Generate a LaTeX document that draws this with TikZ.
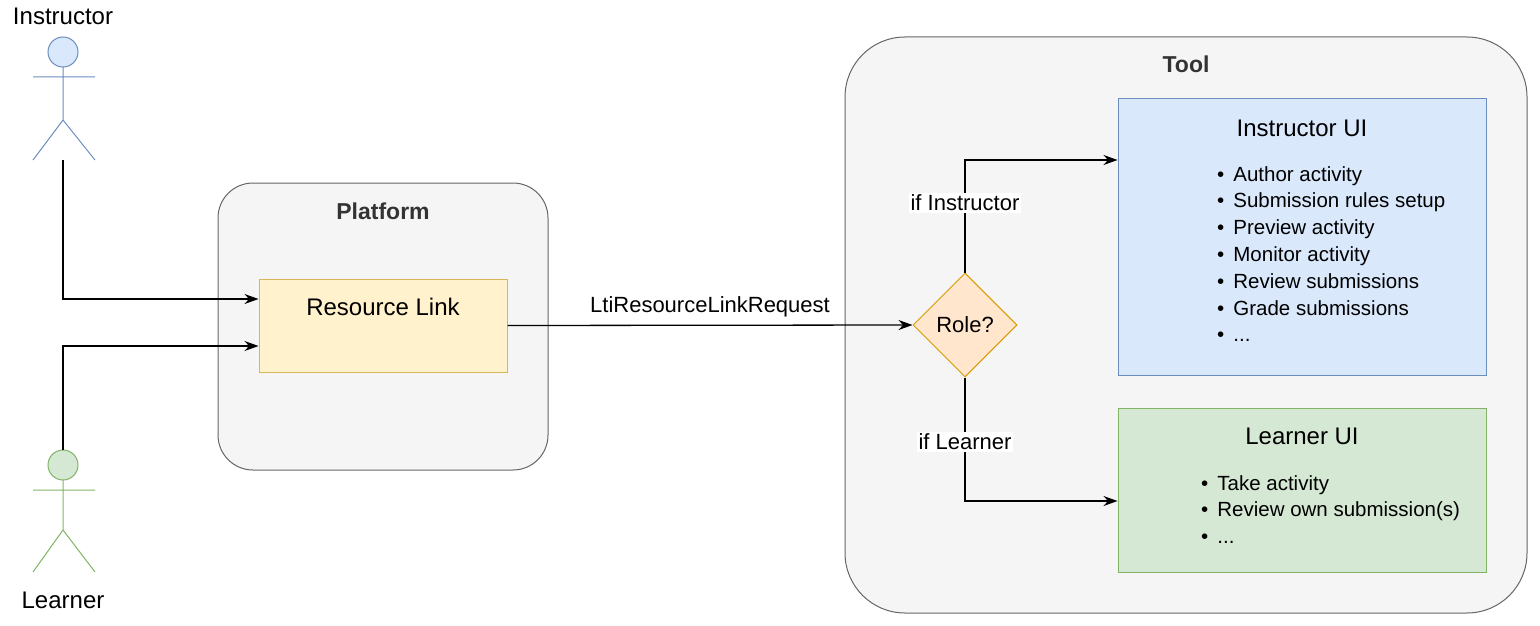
\documentclass[tikz,border=0pt]{standalone}
\usepackage{fontspec}
\setmainfont{Liberation Sans}
\usetikzlibrary{shapes.geometric,arrows.meta}
\definecolor{bfill}{HTML}{DAE8FC}\definecolor{bline}{HTML}{6C8EBF}
\definecolor{gfill}{HTML}{D5E8D4}\definecolor{gline}{HTML}{82B366}
\definecolor{yfill}{HTML}{FFF2CC}\definecolor{yline}{HTML}{D6B656}
\definecolor{ofill}{HTML}{FFE6CC}\definecolor{oline}{HTML}{D79B00}
\definecolor{cfill}{HTML}{F5F5F5}\definecolor{cline}{HTML}{666666}
\begin{document}
\begin{tikzpicture}[x=1pt,y=-1pt,
  txt/.style={font=\fontsize{22}{25}\selectfont,inner sep=1pt},
  big/.style={font=\fontsize{24}{27}\selectfont,inner sep=1pt},
  ttl/.style={font=\bfseries\fontsize{23}{26}\selectfont,text=black!80,inner sep=1pt},
  cont/.style={draw=cline,fill=cfill,line width=1pt},
  arr/.style={-{Stealth[length=14pt,width=10pt]},line width=1.3pt},
  lbl/.style={txt,fill=white,inner sep=2pt},
  bul/.style={font=\fontsize{20.5}{26.8}\selectfont,align=left,anchor=north west,inner sep=0pt}]
\useasboundingbox (0,0) rectangle (1540,626);
% actors
\begin{scope}[draw=bline,line width=1pt]
\draw[fill=bfill] (63,52) circle (15);
\draw (63,67)--(63,120) (33,77)--(95,77) (33,160)--(63,120)--(95,160);
\end{scope}
\coordinate (ifoot) at (63,160);
\node[big] (ilab) at (63,16) {Instructor};
\begin{scope}[draw=gline,line width=1pt]
\draw[fill=gfill] (63,465) circle (15);
\draw (63,480)--(63,530) (33,490)--(95,490) (33,572)--(63,530)--(95,572);
\end{scope}
\coordinate (lhead) at (63,450);
\node[big] (llab) at (63,600) {Learner};
% platform
\draw[cont,rounded corners=35] (218,183) rectangle (548,470);
\node[ttl] (ptitle) at (383,211) {Platform};
\node[draw=yline,fill=yfill,line width=1pt,minimum width=248,minimum height=93,inner sep=0pt] (rl) at (383,325.5) {};
\node[big] (rlt) at (383,307) {Resource Link};
% tool
\draw[cont,rounded corners=60] (845,37) rectangle (1527,613);
\node[ttl] (ttitle) at (1186,64) {Tool};
\node[draw=bline,fill=bfill,line width=1pt,minimum width=368,minimum height=277,inner sep=0pt] (iui) at (1302,236.5) {};
\node[big] (iuit) at (1302,128) {Instructor UI};
\node[bul] (ib) at (1217,166) {\textbullet\hspace{9pt}Author activity\\\textbullet\hspace{9pt}Submission rules setup\\\textbullet\hspace{9pt}Preview activity\\\textbullet\hspace{9pt}Monitor activity\\\textbullet\hspace{9pt}Review submissions\\\textbullet\hspace{9pt}Grade submissions\\\textbullet\hspace{9pt}...};
\node[draw=gline,fill=gfill,line width=1pt,minimum width=368,minimum height=164,inner sep=0pt] (lui) at (1302,490) {};
\node[big] (luit) at (1302,436) {Learner UI};
\node[bul] (lb) at (1201,475) {\textbullet\hspace{9pt}Take activity\\\textbullet\hspace{9pt}Review own submission(s)\\\textbullet\hspace{9pt}...};
\node[diamond,draw=oline,fill=ofill,line width=1pt,minimum width=104,minimum height=104,inner sep=0pt,txt] (role) at (965,325) {Role?};
% connectors
\draw[arr] (ifoot) |- ([yshift=26.5]rl.west);
\draw[arr] (lhead) |- ([yshift=-20.5]rl.west);
\draw[arr] (rl.east) -- node[txt,above=7pt] {LtiResourceLinkRequest} (role.west);
\draw[arr] (role.north) |- node[lbl,pos=0.31] {if Instructor} (iui.west |- 0,160);
\draw[arr] (role.south) |- node[lbl,pos=0.26] {if Learner} (lui.west |- 0,501);
\end{tikzpicture}
\end{document}
